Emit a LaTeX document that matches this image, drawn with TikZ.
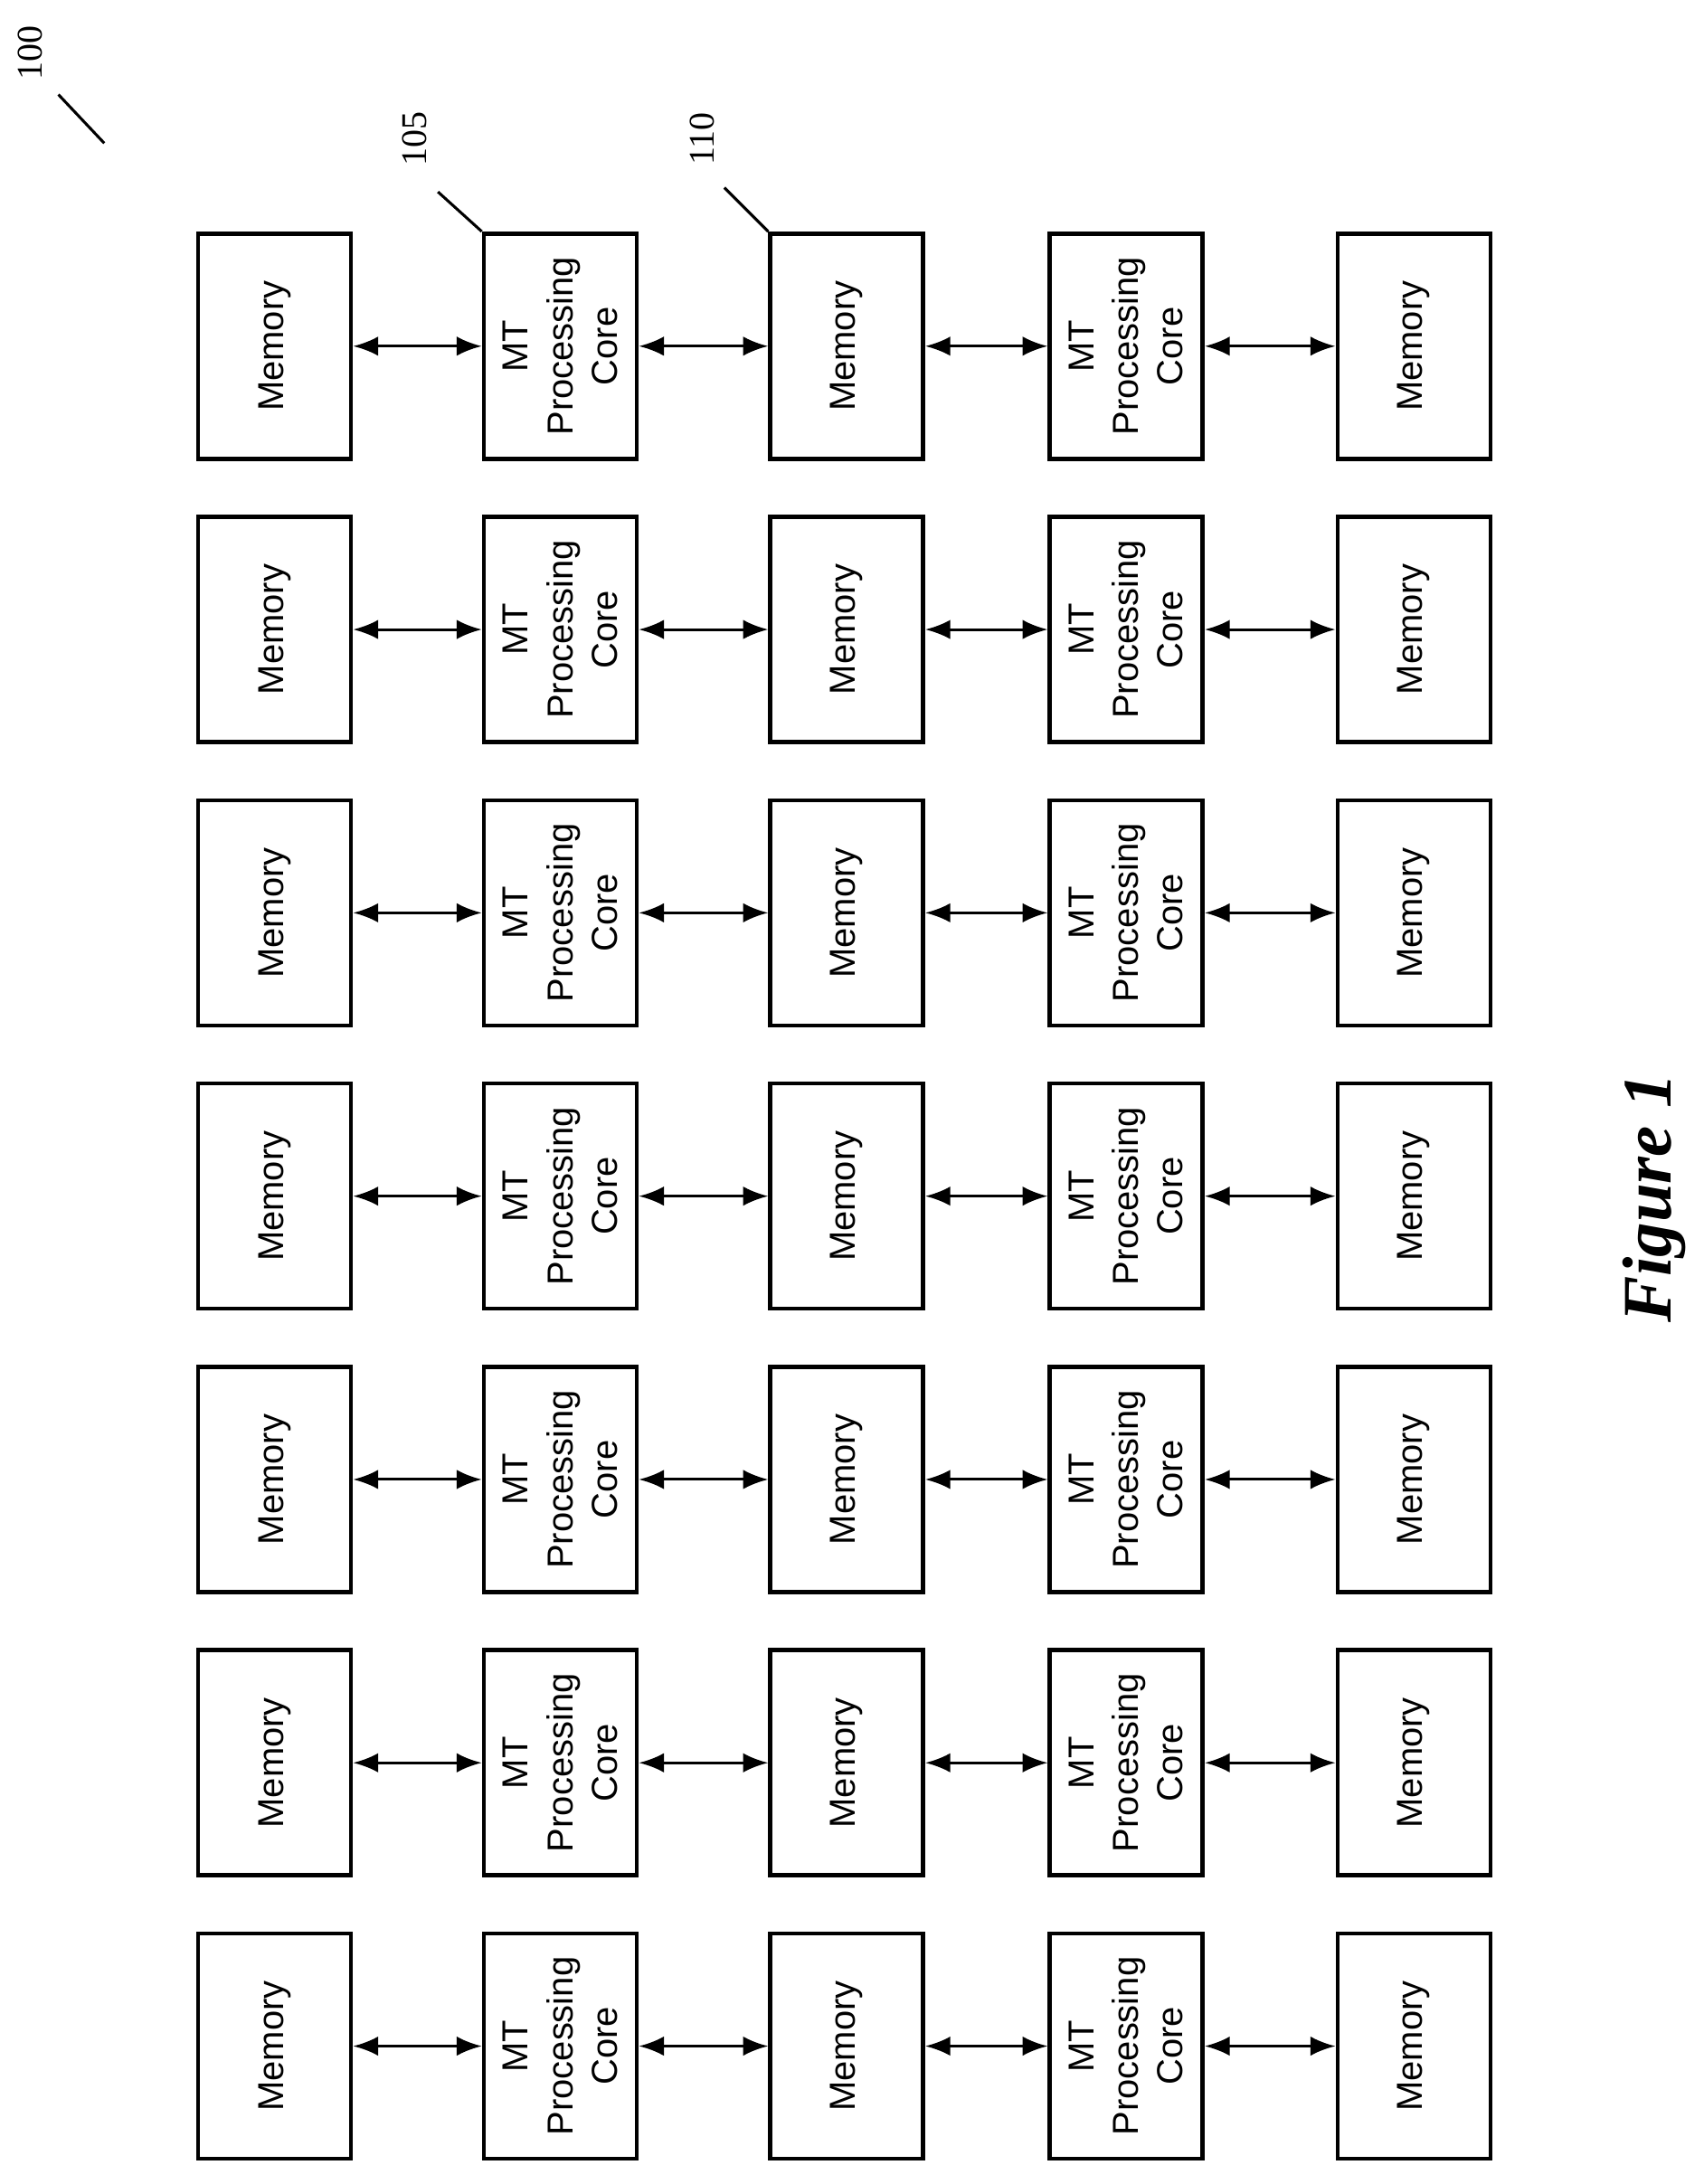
\documentclass[tikz,border=0pt]{standalone}
\usepackage{fontspec}
\setmainfont{Liberation Sans}
\newfontfamily\serifnum{Liberation Serif}
\usetikzlibrary{arrows.meta}
\begin{document}
\begin{tikzpicture}[
        x=0.5pt, y=-0.5pt,
        blockbox/.style={draw, line width=1.5pt, rotate=90, minimum width=81pt, minimum height=55pt,
            align=center, inner sep=0pt, font=\fontsize{13}{16}\selectfont},
        link/.style={{Latex[length=9pt,width=7pt]}-{Latex[length=9pt,width=7pt]}, line width=1pt},
        refnum/.style={rotate=90, font=\serifnum\fontsize{13}{15}\selectfont},
        leader/.style={line width=1pt}
    ]
        \useasboundingbox (0,0) rectangle (1225,1571);
        % Rows of memories and cores
        \foreach \r in {0,...,6} {
            \pgfmathsetmacro{\yy}{249+203.8*\r}
            \node[blockbox] (mem-\r-0) at (197.5,\yy) {Memory};
            \node[blockbox] (core-\r-1) at (403,\yy) {MT\\Processing\\Core};
            \node[blockbox] (mem-\r-2) at (609,\yy) {Memory};
            \node[blockbox] (core-\r-3) at (810,\yy) {MT\\Processing\\Core};
            \node[blockbox] (mem-\r-4) at (1017,\yy) {Memory};
            \draw[link] (mem-\r-0) -- (core-\r-1);
            \draw[link] (core-\r-1) -- (mem-\r-2);
            \draw[link] (mem-\r-2) -- (core-\r-3);
            \draw[link] (core-\r-3) -- (mem-\r-4);
        }

        % Reference numerals
        \node[refnum] (lbl100) at (22,38) {100};
        \coordinate (tip100a) at (42,68);
        \coordinate (tip100b) at (75,103);
        \draw[leader] (tip100a) -- (tip100b);
        \node[refnum] (lbl105) at (298,100) {105};
        \draw[leader] (315,138) -- (core-0-1.north east);
        \node[refnum] (lbl110) at (505,100) {110};
        \draw[leader] (521,135) -- (mem-0-2.north east);

        \node[rotate=90, font=\serifnum\bfseries\itshape\fontsize{25}{28}\selectfont] (fig) at (1190,862) {Figure 1};
    \end{tikzpicture}
\end{document}
